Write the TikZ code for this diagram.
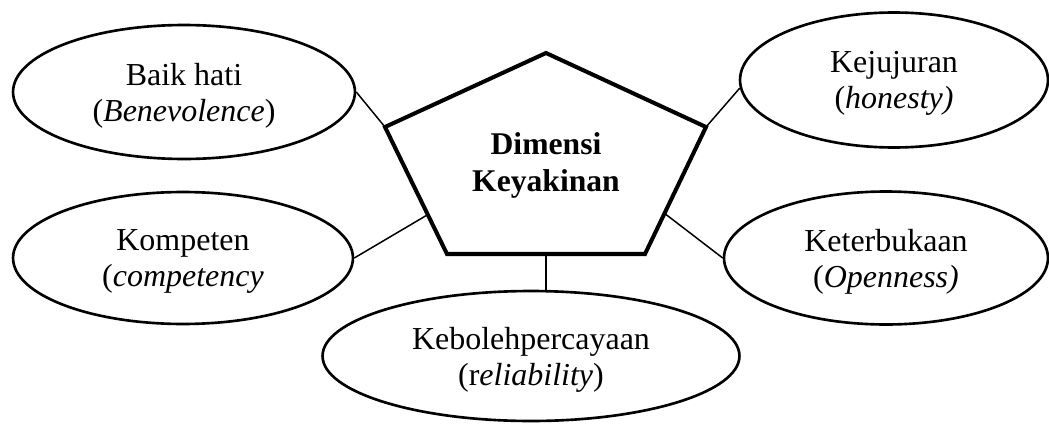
\documentclass[tikz,border=0pt]{standalone}
\usepackage{fontspec}
\setmainfont{Liberation Serif}
\usetikzlibrary{shapes.geometric,calc}
\tikzset{
  aspect node/.style={ellipse,draw,line width=1.5pt,align=center,inner sep=0pt,text depth=0pt,font=\fontsize{18.2}{20.5}\selectfont},
  core shape/.style={line width=2.3pt,line join=miter},
  core label/.style={align=center,font=\fontsize{18}{21}\selectfont\bfseries},
  link line/.style={line width=0.85pt}
}

\begin{document}
\begin{tikzpicture}[x=0.02cm,y=-0.02cm]
    \useasboundingbox (0,0) rectangle (1049,423);
    % corners of the pentagon
    \coordinate (pTop) at (546,53);
    \coordinate (pL) at (385,127);
    \coordinate (pR) at (706,127);
    \coordinate (pBL) at (447,254);
    \coordinate (pBR) at (645,254);
    \coordinate (pKL) at ($(pL)!0.69!(pBL)$);
    \coordinate (pKR) at ($(pR)!0.68!(pBR)$);
    \coordinate (pB) at (546,254);
    \draw[core shape] (pTop) -- (pR) -- (pBR) -- (pBL) -- (pL) -- cycle;
    \node[core label] (dimensi) at (546,165) {Dimensi\\Keyakinan};
    % the five dimensions
    \node[aspect node,minimum width=6.84cm,minimum height=2.68cm] (baik) at (184,92) {Baik hati\\(\textit{Benevolence})};
    \node[aspect node,minimum width=6.8cm,minimum height=2.64cm] (kompeten) at (183,258) {Kompeten\\(\textit{competency}};
    \node[aspect node,minimum width=6.16cm,minimum height=2.7cm] (jujur) at (894,80) {Kejujuran\\(\textit{honesty)}};
    \node[aspect node,minimum width=6.48cm,minimum height=2.66cm] (terbuka) at (886,258) {Keterbukaan\\(\textit{Openness)}};
    \node[aspect node,minimum width=8.34cm,minimum height=2.6cm] (percaya) at (531,356) {Kebolehpercayaan\\(r\textit{eliability})};
    \draw[link line] (baik.east) -- (pL);
    \draw[link line] (kompeten.east) -- (pKL);
    \draw[link line] (jujur.183) -- (pR);
    \draw[link line] (terbuka.west) -- (pKR);
    \draw[link line] (pB) -- (pB |- percaya.north);
\end{tikzpicture}
\end{document}
